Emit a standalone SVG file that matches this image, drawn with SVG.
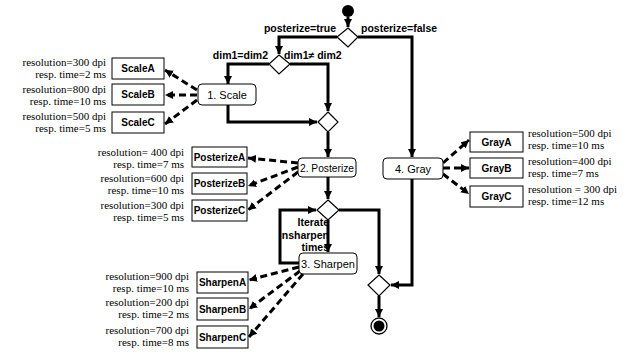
<svg xmlns="http://www.w3.org/2000/svg" width="641" height="354" viewBox="0 0 641 354">
<style>
.flow{fill:none;stroke:#000;stroke-width:3;marker-end:url(#ah)}
.dash{fill:none;stroke:#000;stroke-width:3;stroke-dasharray:7,4;marker-end:url(#ah)}
.node{fill:#fff;stroke:#000;stroke-width:1}
.box{fill:#fff;stroke:#000;stroke-width:1}
.dia{fill:#fff;stroke:#000;stroke-width:1.2}
.nl{font-family:"Liberation Sans",Arial,sans-serif;font-size:11px;text-anchor:middle}
.bl{font-family:"Liberation Sans",Arial,sans-serif;font-size:10px;font-weight:bold;text-anchor:middle}
.el{font-family:"Liberation Sans",Arial,sans-serif;font-size:10.5px;font-weight:bold}
.ql{font-family:"Liberation Serif","Times New Roman",serif;font-size:11px}
.r{text-anchor:end}
</style>
<defs>
<marker id="ah" markerUnits="userSpaceOnUse" markerWidth="9" markerHeight="9" refX="8" refY="4" orient="auto">
<path d="M0,0 L8,4 L0,8 z" fill="#000"/>
</marker>
</defs>
<g id="connectors">
<line class="flow" x1="348" y1="17" x2="348" y2="27"/>
<polyline class="flow" points="337,37 279,37 279,54"/>
<polyline class="flow" points="358,37 412,37 412,157"/>
<polyline class="flow" points="269,64 228,64 228,84"/>
<polyline class="flow" points="290,64 328,64 328,111"/>
<polyline class="flow" points="228,105 228,122 317,122"/>
<line class="flow" x1="328" y1="132" x2="328" y2="157"/>
<line class="flow" x1="328" y1="177" x2="328" y2="199"/>
<line class="flow" x1="328" y1="220" x2="328" y2="252"/>
<polyline class="flow" points="299,263 280,263 280,210 316,210"/>
<polyline class="flow" points="339,210 379,210 379,274"/>
<polyline class="flow" points="412,179 412,285 391,285"/>
<line class="flow" x1="379" y1="296" x2="379" y2="317"/>
<line class="dash" x1="197" y1="90" x2="165" y2="70"/>
<line class="dash" x1="197" y1="95" x2="165" y2="95"/>
<line class="dash" x1="197" y1="100" x2="165" y2="124"/>
<line class="dash" x1="298" y1="163" x2="248" y2="158"/>
<line class="dash" x1="298" y1="167" x2="248" y2="186"/>
<line class="dash" x1="298" y1="172" x2="248" y2="210"/>
<line class="dash" x1="299" y1="267" x2="249" y2="280"/>
<line class="dash" x1="300" y1="271" x2="249" y2="309"/>
<line class="dash" x1="303" y1="274" x2="249" y2="337"/>
<line class="dash" x1="443" y1="163" x2="469" y2="140"/>
<line class="dash" x1="443" y1="168" x2="469" y2="168"/>
<line class="dash" x1="443" y1="174" x2="469" y2="194"/>
</g>
<g id="labels">
<text class="el r" x="336" y="32">posterize=true</text>
<text class="el" x="361" y="32">posterize=false</text>
<text class="el r" x="268" y="59">dim1=dim2</text>
<text class="el" x="284" y="59">dim1≠ dim2</text>
<text class="el r" x="329" y="226">Iterate</text>
<text class="el r" x="329" y="239">nsharpen</text>
<text class="el r" x="329" y="251">times</text>
</g>
<g id="start"><circle cx="348" cy="11" r="6" fill="#000"/></g>
<g id="decision1"><polygon class="dia" points="348,28 358,37 348,47 337,37"/></g>
<g id="decision2"><polygon class="dia" points="279,55 290,64 279,74 269,64"/></g>
<g id="merge1"><polygon class="dia" points="328,112 338,122 328,132 318,122"/></g>
<g id="decision3"><polygon class="dia" points="328,200 339,210 328,220 317,210"/></g>
<g id="merge2"><polygon class="dia" points="379,275 390,285 379,296 368,285"/></g>
<g id="end"><circle cx="379" cy="326" r="8" fill="#fff" stroke="#000" stroke-width="1.3"/><circle cx="379" cy="326" r="5.5" fill="#000"/></g>
<g id="scale"><rect class="node" x="198" y="84" width="58" height="21" rx="4"/><text class="nl" x="227" y="99">1. Scale</text></g>
<g id="posterize"><rect class="node" x="298" y="158" width="58" height="19" rx="4"/><text class="nl" x="327" y="172" textLength="54" lengthAdjust="spacingAndGlyphs">2. Posterize</text></g>
<g id="sharpen"><rect class="node" x="299" y="253" width="58" height="21" rx="4"/><text class="nl" x="328" y="268">3. Sharpen</text></g>
<g id="gray"><rect class="node" x="383" y="158" width="60" height="21" rx="4"/><text class="nl" x="413" y="173">4. Gray</text></g>
<g id="scaleA"><rect class="box" x="112" y="58" width="52" height="21"/><text class="bl" x="138" y="72">ScaleA</text><text class="ql r" x="106" y="66">resolution=300 dpi</text><text class="ql r" x="106" y="78">resp. time=2 ms</text></g>
<g id="scaleB"><rect class="box" x="112" y="84" width="52" height="21"/><text class="bl" x="138" y="98">ScaleB</text><text class="ql r" x="106" y="93">resolution=800 dpi</text><text class="ql r" x="106" y="105">resp. time=10 ms</text></g>
<g id="scaleC"><rect class="box" x="112" y="112" width="52" height="21"/><text class="bl" x="138" y="126">ScaleC</text><text class="ql r" x="106" y="120">resolution=500 dpi</text><text class="ql r" x="106" y="132">resp. time=5 ms</text></g>
<g id="posterizeA"><rect class="box" x="192" y="147" width="55" height="20"/><text class="bl" x="219.5" y="161">PosterizeA</text><text class="ql r" x="184" y="156">resolution= 400 dpi</text><text class="ql r" x="184" y="168">resp. time=7 ms</text></g>
<g id="posterizeB"><rect class="box" x="192" y="173" width="55" height="21"/><text class="bl" x="219.5" y="187">PosterizeB</text><text class="ql r" x="184" y="182">resolution=600 dpi</text><text class="ql r" x="184" y="194">resp. time=10 ms</text></g>
<g id="posterizeC"><rect class="box" x="192" y="200" width="55" height="21"/><text class="bl" x="219.5" y="214">PosterizeC</text><text class="ql r" x="184" y="209">resolution=300 dpi</text><text class="ql r" x="184" y="221">resp. time=5 ms</text></g>
<g id="sharpenA"><rect class="box" x="197" y="272" width="51" height="21"/><text class="bl" x="222.5" y="286">SharpenA</text><text class="ql r" x="189" y="280">resolution=900 dpi</text><text class="ql r" x="189" y="292">resp. time=10 ms</text></g>
<g id="sharpenB"><rect class="box" x="197" y="298" width="51" height="22"/><text class="bl" x="222.5" y="313">SharpenB</text><text class="ql r" x="189" y="306">resolution=200 dpi</text><text class="ql r" x="189" y="318">resp. time=2 ms</text></g>
<g id="sharpenC"><rect class="box" x="197" y="326" width="51" height="22"/><text class="bl" x="222.5" y="341">SharpenC</text><text class="ql r" x="189" y="334">resolution=700 dpi</text><text class="ql r" x="189" y="346">resp. time=8 ms</text></g>
<g id="grayA"><rect class="box" x="470" y="132" width="53" height="20"/><text class="bl" x="496.5" y="146">GrayA</text><text class="ql" x="528" y="137">resolution=500 dpi</text><text class="ql" x="528" y="149">resp. time=10 ms</text></g>
<g id="grayB"><rect class="box" x="470" y="158" width="53" height="20"/><text class="bl" x="496.5" y="172">GrayB</text><text class="ql" x="528" y="165">resolution=400 dpi</text><text class="ql" x="528" y="177">resp. time=7 ms</text></g>
<g id="grayC"><rect class="box" x="470" y="186" width="53" height="21"/><text class="bl" x="496.5" y="200">GrayC</text><text class="ql" x="528" y="193">resolution = 300 dpi</text><text class="ql" x="528" y="205">resp. time=12 ms</text></g>
</svg>
